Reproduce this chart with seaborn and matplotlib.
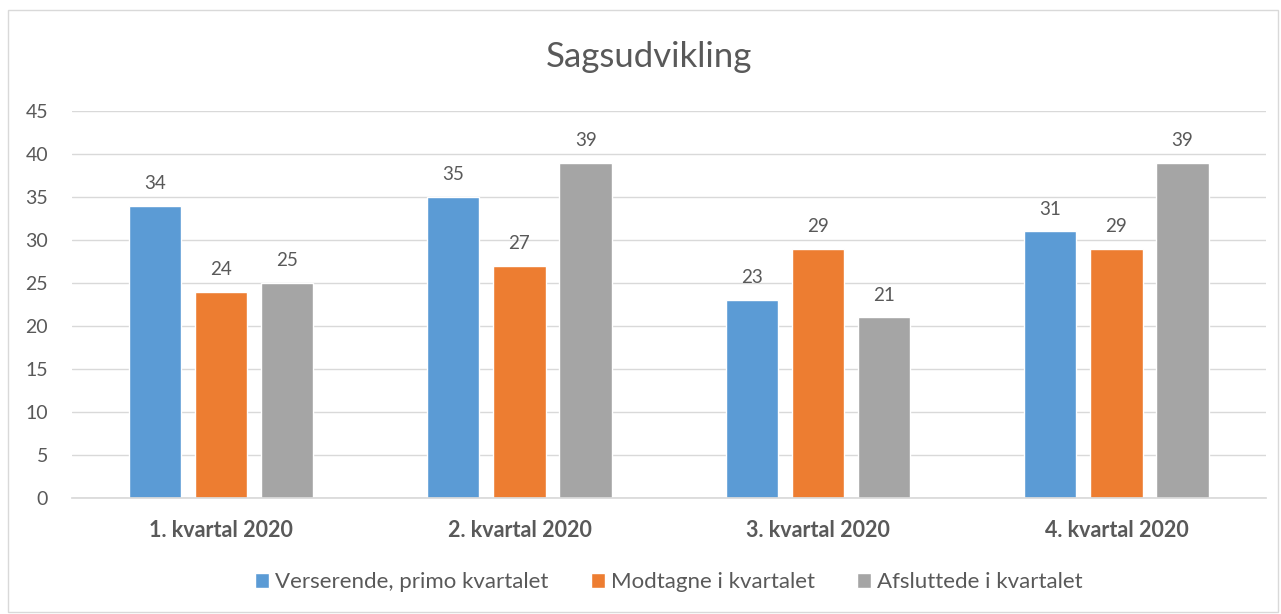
import pandas as pd
import matplotlib.pyplot as plt
import seaborn as sns
from matplotlib.patches import Rectangle

quarters = ['1. kvartal 2020', '2. kvartal 2020', '3. kvartal 2020', '4. kvartal 2020']
series = ['Verserende, primo kvartalet', 'Modtagne i kvartalet', 'Afsluttede i kvartalet']
verserende = [34, 35, 23, 31]
modtagne = [24, 27, 29, 29]
afsluttede = [25, 39, 21, 39]
colors = ['#5B9BD5', '#ED7D31', '#A5A5A5']

df = pd.DataFrame({
    'Kvartal': quarters * 3,
    'Serie': [s for s in series for _ in quarters],
    'Antal': verserende + modtagne + afsluttede,
})

sns.set_theme(style='white')
plt.rcParams['font.family'] = ['Lato', 'DejaVu Sans']
text_col = '#595959'

fig = plt.figure(figsize=(12.81, 6.14), dpi=100)
fig.patches.append(Rectangle((0.006, 0.003), 0.992, 0.98, transform=fig.transFigure,
                             fill=False, edgecolor='#D9D9D9', linewidth=1))
ax = fig.add_axes([0.056, 0.189, 0.932, 0.630])

sns.barplot(data=df, x='Kvartal', y='Antal', hue='Serie', palette=colors,
            width=0.665, gap=0.21, ax=ax, saturation=1, legend=True)

for cont in ax.containers:
    ax.bar_label(cont, padding=10, fontsize=13.5, color=text_col)

ax.set_ylim(0, 45)
ax.set_yticks(range(0, 46, 5))
ax.yaxis.grid(True, color='#D9D9D9', linewidth=1)
ax.set_axisbelow(True)
for side in ['top', 'right', 'left']:
    ax.spines[side].set_visible(False)
ax.spines['bottom'].set_color('#D9D9D9')
ax.tick_params(axis='y', length=0, labelsize=14, labelcolor=text_col, pad=17)
ax.tick_params(axis='x', length=0, labelsize=15.5, labelcolor=text_col, pad=16)
for lbl in ax.get_xticklabels():
    lbl.set_fontweight('bold')
ax.set_xlabel('')
ax.set_ylabel('')

fig.text(0.507, 0.907, 'Sagsudvikling', ha='center', va='center', fontsize=25, color=text_col)

ax.legend(loc='upper center', bbox_to_anchor=(0.5, -0.14), ncol=3, frameon=False,
          fontsize=16, labelcolor=text_col, handlelength=0.65, handleheight=0.65,
          handletextpad=0.25, columnspacing=1.9)

plt.savefig('out.png', dpi=100)
